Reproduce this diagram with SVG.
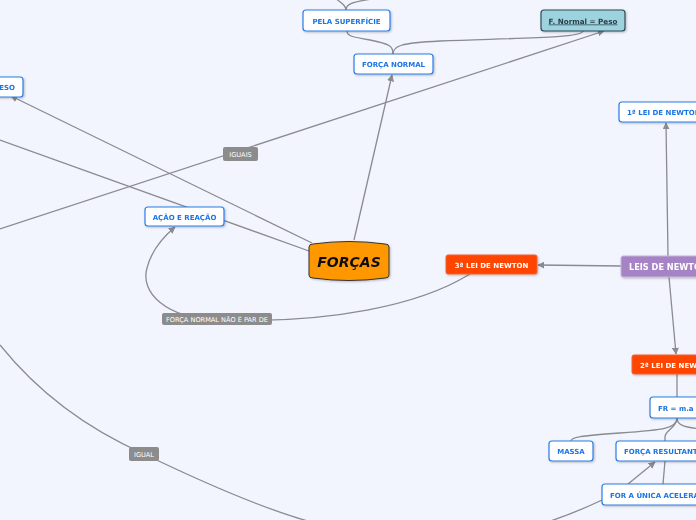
<svg xmlns="http://www.w3.org/2000/svg" width="696" height="520" viewBox="0 0 696 520">
<style>
.n rect{fill:#fff;stroke:#2b7de9;stroke-width:1.2}
.n text{fill:#1a74e6;font-family:"DejaVu Sans",Verdana,sans-serif;font-weight:bold;font-size:7px}
.r rect{fill:#ff4500;stroke:#f06030;stroke-width:1}
.r text{fill:#fff;font-family:"DejaVu Sans",Verdana,sans-serif;font-weight:bold;font-size:7px}
.l rect{fill:#8c8c8c}
.l text{fill:#fff;font-family:"DejaVu Sans",Verdana,sans-serif;font-size:6.6px;text-anchor:middle}
.c path,.c line{fill:none;stroke:#8a8a90;stroke-width:1.3}
.m{text-anchor:middle}
</style>
<defs>
<marker id="a" viewBox="0 0 10 10" refX="9" refY="5" markerWidth="7" markerHeight="7" orient="auto" markerUnits="userSpaceOnUse">
<path d="M0,0 L10,5 L0,10 Z" fill="#8a8a90"/>
</marker>
<filter id="s" x="-10%" y="-20%" width="130%" height="160%">
<feDropShadow dx="1" dy="1" stdDeviation="0.8" flood-color="#000" flood-opacity="0.25"/>
</filter>
</defs>
<rect width="696" height="520" fill="#f2f5fe"/>
<g id="connectors" class="c">
<path d="M346,10 C346,5 341,3 335,-2"/>
<path d="M346,10 C346,4 352,2 372,-1"/>
<path d="M393,54 C393,46 390,44 370,40 C352,37 347,36 347,31"/>
<path d="M393,54 C393,46 400,43 440,41 C520,38 583,38 583,31"/>
<line x1="354" y1="240" x2="392" y2="75" marker-end="url(#a)"/>
<line x1="312" y1="243" x2="11" y2="96" marker-end="url(#a)"/>
<line x1="309" y1="251" x2="0" y2="140"/>
<line x1="0" y1="229" x2="604" y2="31" marker-end="url(#a)"/>
<line x1="621" y1="266" x2="538" y2="265" marker-end="url(#a)"/>
<line x1="668" y1="256" x2="666" y2="123" marker-end="url(#a)"/>
<line x1="669" y1="277" x2="676" y2="354" marker-end="url(#a)"/>
<path d="M470,274 C420,305 330,324 217,320"/>
<path d="M217,320 C165,318 140,292 147,268 C151,252 162,238 175,227" marker-end="url(#a)"/>
<path d="M0,345 C40,395 90,430 144,454"/>
<path d="M144,454 C250,505 335,540 435,540 C505,540 560,520 602,500"/>
<line x1="677" y1="374" x2="677" y2="397"/>
<path d="M677,418 C677,428 665,430 620,433 C580,436 571,437 571,441"/>
<path d="M677,418 C677,428 665,430 665,437 L665,441"/>
<path d="M677,418 C677,426 686,427 700,429"/>
<line x1="628" y1="484" x2="655" y2="462" marker-end="url(#a)"/>
<line x1="663" y1="484" x2="665" y2="461"/>
</g>
<g id="lbl-iguais" class="l"><rect x="223" y="147" width="35" height="14" rx="2"/><text x="240.5" y="157">IGUAIS</text></g>
<g id="lbl-par" class="l"><rect x="162" y="313" width="110" height="12" rx="2"/><text x="217" y="321.5">FORÇA NORMAL NÃO É PAR DE</text></g>
<g id="lbl-igual" class="l"><rect x="129" y="447" width="30" height="14" rx="2"/><text x="144" y="457">IGUAL</text></g>
<g id="pela" class="n" filter="url(#s)"><rect x="303" y="10" width="87" height="21" rx="3"/><text class="m" x="346.5" y="23.5">PELA SUPERFÍCIE</text></g>
<g id="normal" class="n" filter="url(#s)"><rect x="354" y="54" width="79" height="20" rx="3"/><text class="m" x="393.5" y="67">FORÇA NORMAL</text></g>
<g id="fnormal" filter="url(#s)"><rect x="541" y="10" width="84" height="21" rx="3" fill="#9dd3df" stroke="#2f4a55" stroke-width="1.2"/><text x="583" y="23.5" text-anchor="middle" fill="#2b3e48" font-family="DejaVu Sans,Verdana,sans-serif" font-weight="bold" font-size="7.2px" text-decoration="underline">F. Normal = Peso</text></g>
<g id="peso" class="n" filter="url(#s)"><rect x="-20" y="77" width="43" height="20" rx="3"/><text x="15" y="90" text-anchor="end">PESO</text></g>
<g id="lei1" class="n" filter="url(#s)"><rect x="619" y="102" width="92" height="20" rx="3"/><text x="627" y="115">1ª LEI DE NEWTON</text></g>
<g id="acao" class="n" filter="url(#s)"><rect x="145" y="207" width="79" height="19" rx="3"/><text class="m" x="184.5" y="219.5">AÇÃO E REAÇÃO</text></g>
<g id="forcas" filter="url(#s)"><path d="M309,247 Q309,244 313,244 Q349,239 385,244 Q389,244 389,247 L389,275 Q389,278 385,278 Q349,283 313,278 Q309,278 309,275 Z" fill="#ff9800" stroke="#333" stroke-width="1"/><text x="349" y="266.5" text-anchor="middle" font-family="DejaVu Sans,Verdana,sans-serif" font-weight="bold" font-style="italic" font-size="14px" fill="#111">FORÇAS</text></g>
<g id="lei3" class="r" filter="url(#s)"><rect x="446" y="255" width="91" height="19" rx="2"/><text class="m" x="491.5" y="267.5">3ª LEI DE NEWTON</text></g>
<g id="leis" filter="url(#s)"><rect x="621" y="256" width="100" height="21" rx="2" fill="#a583c4" stroke="#c8b4dc" stroke-width="1"/><text x="629" y="269.5" fill="#fff" font-family="DejaVu Sans,Verdana,sans-serif" font-weight="bold" font-size="8.2px">LEIS DE NEWTON</text></g>
<g id="lei2" class="r" filter="url(#s)"><rect x="632" y="355" width="95" height="19" rx="2"/><text x="640" y="367.5">2ª LEI DE NEWTON</text></g>
<g id="fr" class="n" filter="url(#s)"><rect x="650" y="397" width="54" height="21" rx="3"/><text x="658" y="410.5">FR = m.a</text></g>
<g id="massa" class="n" filter="url(#s)"><rect x="549" y="441" width="44" height="20" rx="3"/><text class="m" x="571" y="454">MASSA</text></g>
<g id="resultante" class="n" filter="url(#s)"><rect x="616" y="441" width="100" height="20" rx="3"/><text x="624" y="454">FORÇA RESULTANTE</text></g>
<g id="unica" class="n" filter="url(#s)"><rect x="602" y="484" width="120" height="21" rx="3"/><text x="610" y="497.5">FOR A ÚNICA ACELERA</text></g>
</svg>
